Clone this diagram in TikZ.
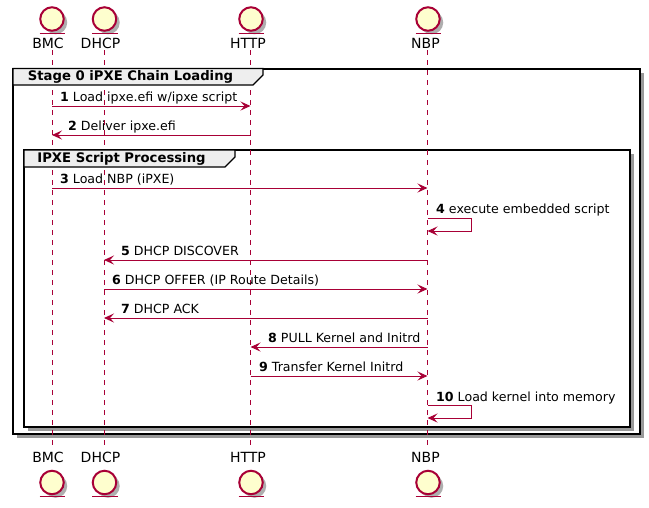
\documentclass[tikz,border=0pt]{standalone}
\usepackage{fontspec}
\setmainfont{DejaVu Sans}
\usetikzlibrary{arrows.meta,shadows}

\definecolor{umlred}{HTML}{A80036}
\definecolor{umlfill}{HTML}{FEFECE}
\definecolor{umltab}{HTML}{EEEEEE}

\begin{document}
\begin{tikzpicture}[x=1pt, y=-1pt,
    entity/.style ={circle, draw=umlred, fill=umlfill, line width=2pt, minimum size=23.5pt, inner sep=0pt, outer sep=0pt,
        drop shadow={shadow xshift=3.5pt, shadow yshift=-3.5pt, fill=black!45, opacity=0.7}},
    actorname/.style ={inner sep=0pt, font=\fontsize{14}{14}\selectfont},
    lifeline/.style ={draw=umlred, line width=0.8pt, dash pattern=on 5pt off 5pt},
    message/.style ={draw=umlred, line width=0.9pt, -{Stealth[length=10pt, width=9pt, inset=4pt]}},
    msgtext/.style ={anchor=base west, inner sep=0pt, font=\fontsize{12.6}{13}\selectfont},
    groupbox/.style ={draw=black, line width=2pt, fill=white, anchor=north west, inner sep=0pt, outer sep=0pt,
        drop shadow={shadow xshift=4pt, shadow yshift=-4pt, fill=black!50, opacity=0.8}},
    grouptab/.style ={draw=black, line width=1.4pt, fill=umltab},
    tablabel/.style ={inner sep=0pt, font=\fontsize{13.2}{13}\selectfont\bfseries}]

   \useasboundingbox (0,0) rectangle (649,507);

   % groups
   \node[groupbox, minimum width=627pt, minimum height=365pt] (stage) at (13,68.5) {};
   \node[groupbox, minimum width=606pt, minimum height=276.5pt] (script) at (24,150) {};

   % participants
   \coordinate (BMCt)  at (52,50);
   \coordinate (BMCb)  at (52,448);
   \coordinate (DHCPt) at (104,50);
   \coordinate (DHCPb) at (104,448);
   \coordinate (HTTPt) at (250.5,50);
   \coordinate (HTTPb) at (250.5,448);
   \coordinate (NBPt)  at (427.5,50);
   \coordinate (NBPb)  at (427.5,448);

   \draw[lifeline] (BMCt) to (BMCb);
   \draw[lifeline] (DHCPt) to (DHCPb);
   \draw[lifeline] (HTTPt) to (HTTPb);
   \draw[lifeline] (NBPt) to (NBPb);

   \node[entity] (BMC1)  at (52,19)    {};
   \node[entity] (DHCP1) at (104.5,19) {};
   \node[entity] (HTTP1) at (251,19)   {};
   \node[entity] (NBP1)  at (428,19)   {};
   \node[entity] (BMC2)  at (52,482.5)    {};
   \node[entity] (DHCP2) at (104.5,482.5) {};
   \node[entity] (HTTP2) at (251,482.5)   {};
   \node[entity] (NBP2)  at (428,482.5)   {};

   \draw[umlred, line width=1.8pt] (39.5,33.5) to (65,33.5);
   \draw[umlred, line width=1.8pt] (92,33.5) to (117.5,33.5);
   \draw[umlred, line width=1.8pt] (238.5,33.5) to (264,33.5);
   \draw[umlred, line width=1.8pt] (415.5,33.5) to (441,33.5);
   \draw[umlred, line width=1.8pt] (39.5,496.5) to (65,496.5);
   \draw[umlred, line width=1.8pt] (92,496.5) to (117.5,496.5);
   \draw[umlred, line width=1.8pt] (238.5,496.5) to (264,496.5);
   \draw[umlred, line width=1.8pt] (415.5,496.5) to (441,496.5);

   \node[actorname] (BMCa)  at (48,43)    {BMC};
   \node[actorname] (DHCPa) at (100.5,43) {DHCP};
   \node[actorname] (HTTPa) at (248,43)   {HTTP};
   \node[actorname] (NBPa)  at (425.5,43) {NBP};
   \node[actorname] (BMCc)  at (48,457)    {BMC};
   \node[actorname] (DHCPc) at (100.5,457) {DHCP};
   \node[actorname] (HTTPc) at (248,457)   {HTTP};
   \node[actorname] (NBPc)  at (425.5,457) {NBP};

   % group tabs
   \draw[grouptab] (13,68.5) -- (263,68.5) -- (263,75) -- (253,85) -- (13,85) -- cycle;
   \node[tablabel] (stagelabel) at (130.5,77) {Stage 0 iPXE Chain Loading};
   \draw[grouptab] (24,150) -- (235,150) -- (235,157) -- (225,167) -- (24,167) -- cycle;
   \node[tablabel] (scriptlabel) at (121.5,159) {IPXE Script Processing};

   % messages
   \coordinate (m1a)  at (52,106);    \coordinate (m1b)  at (250.5,106);
   \coordinate (m2a)  at (250.5,135); \coordinate (m2b)  at (52,135);
   \coordinate (m3a)  at (52,188);    \coordinate (m3b)  at (427.5,188);
   \coordinate (m4a)  at (427.5,218); \coordinate (m4b)  at (427.5,231);
   \coordinate (m5a)  at (427.5,260); \coordinate (m5b)  at (104,260);
   \coordinate (m6a)  at (104,289);   \coordinate (m6b)  at (427.5,289);
   \coordinate (m7a)  at (427.5,318); \coordinate (m7b)  at (104,318);
   \coordinate (m8a)  at (427.5,347); \coordinate (m8b)  at (250.5,347);
   \coordinate (m9a)  at (250.5,376); \coordinate (m9b)  at (427.5,376);
   \coordinate (m10a) at (427.5,405.5); \coordinate (m10b) at (427.5,418);

   \draw[message] (m1a) to (m1b);
   \draw[message] (m2a) to (m2b);
   \draw[message] (m3a) to (m3b);
   \draw[message] (m4a) -- ++(43.5,0) -- ++(0,13) -- (m4b);
   \draw[message] (m5a) to (m5b);
   \draw[message] (m6a) to (m6b);
   \draw[message] (m7a) to (m7b);
   \draw[message] (m8a) to (m8b);
   \draw[message] (m9a) to (m9b);
   \draw[message] (m10a) -- ++(43.5,0) -- ++(0,12.5) -- (m10b);

   \node[msgtext] (t1)  at (60,101)   {\textbf{1} Load ipxe.efi w/ipxe script};
   \node[msgtext] (t2)  at (68,130)   {\textbf{2} Deliver ipxe.efi};
   \node[msgtext] (t3)  at (60,183)   {\textbf{3} Load NBP (iPXE)};
   \node[msgtext] (t4)  at (436,213)  {\textbf{4} execute embedded script};
   \node[msgtext] (t5)  at (121,255)  {\textbf{5} DHCP DISCOVER};
   \node[msgtext] (t6)  at (112,284)  {\textbf{6} DHCP OFFER (IP Route Details)};
   \node[msgtext] (t7)  at (121,313)  {\textbf{7} DHCP ACK};
   \node[msgtext] (t8)  at (268,342)  {\textbf{8} PULL Kernel and Initrd};
   \node[msgtext] (t9)  at (259,371)  {\textbf{9} Transfer Kernel Initrd};
   \node[msgtext] (t10) at (436,401)  {\textbf{10} Load kernel into memory};

 \end{tikzpicture}
\end{document}
